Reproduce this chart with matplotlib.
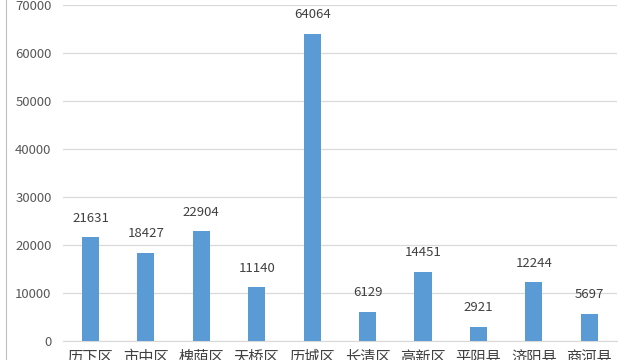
import matplotlib
matplotlib.use("Agg")
import matplotlib.pyplot as plt

plt.rcParams['font.family'] = ['Noto Sans CJK SC', 'DejaVu Sans']

categories = ["历下区", "市中区", "槐荫区", "天桥区", "历城区", "长清区", "高新区", "平阴县", "济阳县", "商河县"]
values = [21631, 18427, 22904, 11140, 64064, 6129, 14451, 2921, 12244, 5697]
yticks = [0, 10000, 20000, 30000, 40000, 50000, 60000, 70000]

fig = plt.figure(figsize=(6.4, 3.6), dpi=100)
ax = fig.add_axes([0.098, 0.053, 0.866, 0.933])
x = range(len(categories))
ax.bar(x, values, width=0.31, color="#5B9BD5", zorder=3)
for xi, v in zip(x, values):
    ax.text(xi, v + 2600, str(v), ha="center", va="bottom", fontsize=9.5, color="#404040")
ax.set_xlim(-0.5, len(categories) - 0.5)
ax.set_ylim(0, 70000)
ax.set_yticks(yticks)
ax.set_yticklabels([str(t) for t in yticks], fontsize=9.5, color="#595959")
ax.set_xticks(list(x))
ax.set_xticklabels(categories, fontsize=11, color="#404040")
ax.grid(axis="y", color="#D9D9D9", linewidth=0.9, zorder=0)
for s in ["top", "right", "left"]:
    ax.spines[s].set_visible(False)
ax.spines["bottom"].set_color("#D9D9D9")
ax.tick_params(axis="y", length=0, pad=8)
ax.tick_params(axis="x", length=0, pad=6)
fig.add_artist(plt.Line2D([6/640, 6/640], [0, 1], color="#BFBFBF", linewidth=0.8))
fig.savefig("out.png", dpi=100)
